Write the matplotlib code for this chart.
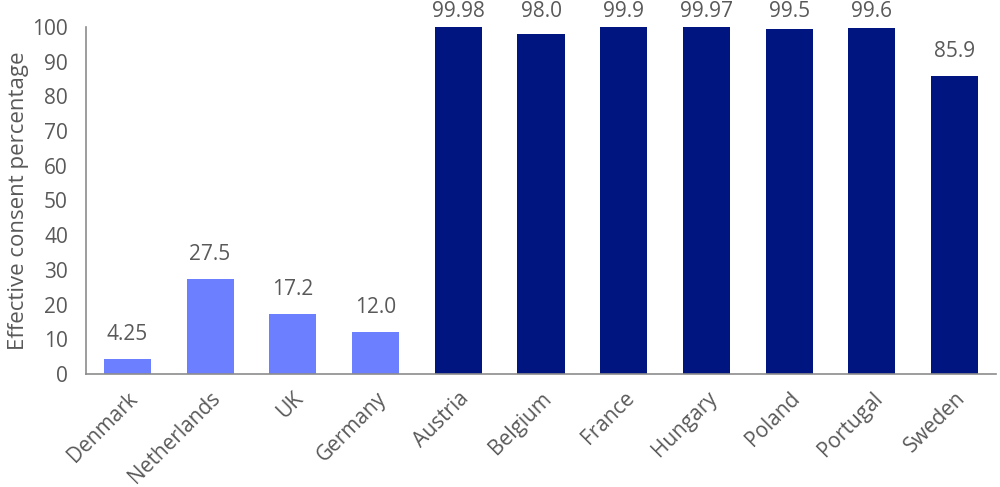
import matplotlib
matplotlib.use("Agg")
import matplotlib.pyplot as plt

countries = ["Denmark", "Netherlands", "UK", "Germany", "Austria", "Belgium",
             "France", "Hungary", "Poland", "Portugal", "Sweden"]
values = [4.25, 27.5, 17.2, 12.0, 99.98, 98.0, 99.9, 99.97, 99.5, 99.6, 85.9]
labels = ["4.25", "27.5", "17.2", "12.0", "99.98", "98.0", "99.9", "99.97", "99.5", "99.6", "85.9"]
group = ["light"] * 4 + ["dark"] * 7
yticks = [0, 10, 20, 30, 40, 50, 60, 70, 80, 90, 100]

plt.rcParams['font.family'] = ['Open Sans', 'DejaVu Sans']
txt = '#595959'
colmap = {"light": "#6B7FFF", "dark": "#00157F"}

W, H, DPI = 10, 4.87, 100
fig = plt.figure(figsize=(W, H), dpi=DPI)
ax = fig.add_axes([0.086, 0.232, 0.91, 0.7126])
x = list(range(len(countries)))
bars = ax.bar(x, values, width=0.57, color=[colmap[g] for g in group])
ax.set_xlim(-0.5, len(countries) - 0.5)
ax.set_ylim(0, 100)

fig_h_px = H * DPI
for b, lab in zip(bars, labels):
    cx = b.get_x() + b.get_width() / 2
    top_disp = ax.transData.transform((cx, b.get_height()))[1]
    top_from_top = fig_h_px - top_disp
    off_px = min(14, top_from_top - 22)
    ax.annotate(lab, (cx, b.get_height()), xytext=(0, off_px * 72 / DPI),
                textcoords='offset points', ha='center', va='bottom',
                fontsize=15, color=txt, annotation_clip=False)

ax.set_yticks(yticks)
ax.set_xticks(x)
ax.set_xticklabels(countries, rotation=45, ha='right', rotation_mode='anchor')
ax.tick_params(axis='both', length=0, labelsize=15, labelcolor=txt)
ax.tick_params(axis='x', pad=10)
ax.tick_params(axis='y', pad=13)
ax.set_ylabel("Effective consent percentage", fontsize=16, color=txt, labelpad=2)
for s in ['top', 'right']:
    ax.spines[s].set_visible(False)
for s in ['left', 'bottom']:
    ax.spines[s].set_color('#8c8c8c')
    ax.spines[s].set_linewidth(1.2)

fig.savefig("out.png", dpi=DPI)
